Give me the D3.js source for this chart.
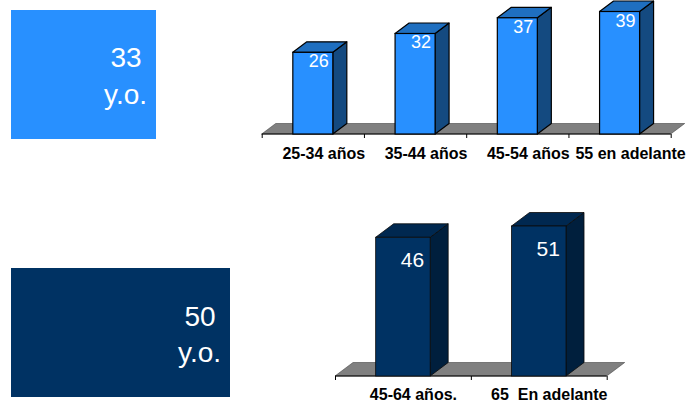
<!DOCTYPE html>
<html><head><meta charset="utf-8">
<script src="https://cdn.jsdelivr.net/npm/d3@7"></script>
<style>html,body{margin:0;padding:0;background:#fff}svg{display:block}text{font-family:"Liberation Sans",Arial,sans-serif}</style>
</head><body><svg id="c" width="690" height="410"></svg>
<script>
const categoriesA = ["25-34 años","35-44 años","45-54 años","55 en adelante"];
const valuesA = [26,32,37,39];
const categoriesB = ["45-64 años.","65  En adelante"];
const valuesB = [46,51];
const calloutA = ["33","y.o."];
const calloutB = ["50","y.o."];

const svg = d3.select("#c");

function callout(cfg, lines){
  svg.append("rect").attr("x",cfg.x).attr("y",cfg.y).attr("width",cfg.w).attr("height",cfg.h).attr("fill",cfg.fill);
  lines.forEach((t,i)=>svg.append("text").attr("x",cfg.tx+(i?-0.5:0)).attr("y",cfg.by[i])
    .attr("text-anchor","middle").attr("fill","#fff").attr("font-size",28).text(t));
}
callout({x:11,y:10,w:145,h:129,fill:"#2890FF",tx:126,by:[66.7,103.5]}, calloutA);
callout({x:11,y:268,w:219,h:129,fill:"#003263",tx:200,by:[325.7,361.7]}, calloutB);

function chart(cfg, cats, vals){
  const x = d3.scaleBand().domain(cats).range([cfg.x0,cfg.x1]);
  const y = d3.scaleLinear().domain(cfg.domain).range([cfg.base,cfg.top]);
  const g = svg.append("g");
  const {dx,dy} = cfg;
  g.append("path").attr("fill","#808080").attr("stroke","#444").attr("stroke-width",0.6)
    .attr("d",d3.line()([[cfg.x0,cfg.base],[cfg.x0+dx,cfg.base+dy],[cfg.x1+dx,cfg.base+dy],[cfg.x1,cfg.base]])+"Z");
  const edges = cats.map(c=>x(c)).concat([cfg.x1]);
  const tickAxis = d3.axisBottom(d3.scaleIdentity().domain([cfg.x0,cfg.x1])).tickValues(edges).tickSize(4).tickFormat("");
  const ta = g.append("g").attr("transform",`translate(0,${cfg.base})`).call(tickAxis);
  ta.selectAll("path,line").attr("stroke","#000").attr("stroke-width",1);
  ta.select(".domain").attr("d",`M${cfg.x0},0H${cfg.x1}`);
  const labs = g.append("g").attr("transform",`translate(${cfg.ldx},${cfg.base})`)
    .call(d3.axisBottom(x).tickSize(0));
  labs.select(".domain").remove();
  labs.selectAll("text").attr("dy",null)
    .attr("font-size",cfg.fontCat).attr("font-weight","bold").attr("fill","#000")
    .style("font-family",'"Liberation Sans",Arial,sans-serif').style("white-space","pre")
    .attr("y",cfg.lby-cfg.base);
  const w = cfg.barW;
  const bars = g.selectAll(".b").data(cats.map((c,i)=>({c,v:vals[i]}))).join("g");
  const left = d=>x(d.c)+x.bandwidth()/2-w/2;
  bars.append("path").attr("fill",cfg.side).attr("stroke",cfg.stroke).attr("stroke-width",cfg.sw).attr("stroke-linejoin","round")
    .attr("d",d=>{const l=left(d)+w,t=y(d.v),b=cfg.base;return d3.line()([[l,b],[l+dx,b+dy],[l+dx,t+dy],[l,t]])+"Z";});
  bars.append("path").attr("fill",cfg.topc).attr("stroke",cfg.stroke).attr("stroke-width",cfg.sw).attr("stroke-linejoin","round")
    .attr("d",d=>{const l=left(d),t=y(d.v);return d3.line()([[l,t],[l+dx,t+dy],[l+w+dx,t+dy],[l+w,t]])+"Z";});
  bars.append("rect").attr("x",left).attr("y",d=>y(d.v)).attr("width",w).attr("height",d=>cfg.base-y(d.v))
    .attr("fill",cfg.front).attr("stroke",cfg.stroke).attr("stroke-width",cfg.sw);
  bars.append("text").attr("x",d=>left(d)+w/2+cfg.vdx).attr("y",d=>y(d.v)+cfg.vdy)
    .attr("text-anchor","middle").attr("fill","#fff").attr("font-size",cfg.fontVal).text(d=>d.v);
}

chart({x0:261.7,x1:670.7,base:134,top:11.5,domain:[0,39],dx:14,dy:-10.5,barW:40,
  front:"#2890FF",side:"#144A80",topc:"#1F6FC0",stroke:"#000",sw:1.2,
  ldx:11,lby:159,fontCat:16,fontVal:18,vdx:6,vdy:15}, categoriesA, valuesA);
chart({x0:335,x1:606.7,base:376,top:226,domain:[-15.4,51],dx:18,dy:-13.5,barW:54.5,
  front:"#003263",side:"#001F3D",topc:"#002850",stroke:"#0a0a0a",sw:0.8,
  ldx:10.5,lby:400,fontCat:16,fontVal:21,vdx:9.5,vdy:29.5}, categoriesB, valuesB);
</script></body></html>
